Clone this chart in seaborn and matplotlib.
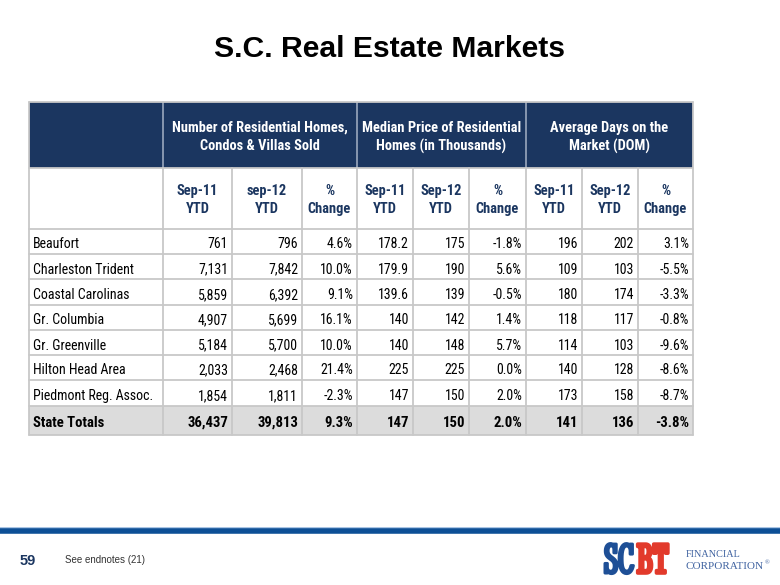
import matplotlib
matplotlib.use("Agg")
import matplotlib.pyplot as plt
import matplotlib.patheffects as pe
import seaborn as sns
from matplotlib.patches import Rectangle


# =====================================================
# DATA
# =====================================================

regions = [
    "Beaufort", "Charleston Trident", "Coastal Carolinas", "Gr. Columbia",
    "Gr. Greenville", "Hilton Head Area", "Piedmont Reg. Assoc.", "State Totals",
]

homes_sep11 = [761, 7131, 5859, 4907, 5184, 2033, 1854, 36437]
homes_sep12 = [796, 7842, 6392, 5699, 5700, 2468, 1811, 39813]
homes_chg = [4.6, 10.0, 9.1, 16.1, 10.0, 21.4, -2.3, 9.3]

price_sep11 = [178.2, 179.9, 139.6, 140, 140, 225, 147, 147]
price_sep12 = [175, 190, 139, 142, 148, 225, 150, 150]
price_chg = [-1.8, 5.6, -0.5, 1.4, 5.7, 0.0, 2.0, 2.0]

dom_sep11 = [196, 109, 180, 118, 114, 140, 173, 141]
dom_sep12 = [202, 103, 174, 117, 103, 128, 158, 136]
dom_chg = [3.1, -5.5, -3.3, -0.8, -9.6, -8.6, -8.7, -3.8]

group_labels = [
    ("Number of Residential Homes,", "Condos & Villas Sold"),
    ("Median Price of Residential", "Homes (in Thousands)"),
    ("Average Days on the", "Market (DOM)"),
]
sub_labels = [
    ("Sep-11", "YTD"), ("sep-12", "YTD"), ("%", "Change"),
    ("Sep-11", "YTD"), ("Sep-12", "YTD"), ("%", "Change"),
    ("Sep-11", "YTD"), ("Sep-12", "YTD"), ("%", "Change"),
]


# =====================================================
# FORMAT
# =====================================================

def fmt_count(v):
    return f"{v:,}"


def fmt_num(v):
    return f"{v:g}"


def fmt_pct(v):
    return f"{v:.1f}%"


columns = [
    (homes_sep11, fmt_count), (homes_sep12, fmt_count), (homes_chg, fmt_pct),
    (price_sep11, fmt_num), (price_sep12, fmt_num), (price_chg, fmt_pct),
    (dom_sep11, fmt_num), (dom_sep12, fmt_num), (dom_chg, fmt_pct),
]


# =====================================================
# FIGURE
# =====================================================

sns.set_theme(style="white")
plt.rcParams["font.family"] = ["Liberation Sans", "DejaVu Sans"]

NAVY = "#1b3660"
GRID = "#c8c8c8"
NARROW = ["Roboto Condensed", "Liberation Sans"]
LOGO = ["Stint Ultra Condensed", "Liberation Serif"]

fig = plt.figure(figsize=(7.8, 5.85), dpi=100)
ax = fig.add_axes([0, 0, 1, 1])
ax.set_xlim(0, 780)
ax.set_ylim(585, 0)
ax.axis("off")

col_edges = [29, 163, 232, 302, 357, 413, 469, 526, 582, 638, 693]
row_edges = [229, 254, 279, 305, 330, 355, 380, 406, 435]
head_top, head_mid = 102, 168

# title
ax.text(390, 49, "S.C. Real Estate Markets", ha="center", va="center",
        fontsize=21.7, fontweight="bold", color="black")

# group header band
ax.add_patch(Rectangle((col_edges[0], head_top), col_edges[-1] - col_edges[0],
                       head_mid - head_top, facecolor=NAVY, edgecolor="none"))
group_bounds = [(1, 4), (4, 7), (7, 10)]
for (a, b), (l1, l2) in zip(group_bounds, group_labels):
    xc = (col_edges[a] + col_edges[b]) / 2
    for yb, line in [(132, l1), (150.5, l2)]:
        ax.text(xc, yb, line, ha="center", va="baseline", color="white",
                fontsize=10.4, fontweight="bold", family=NARROW)
for x in [col_edges[1], col_edges[4], col_edges[7]]:
    ax.plot([x, x], [head_top, head_mid], color="#9aa8bd", lw=1.2)

# sub header
for i, (l1, l2) in enumerate(sub_labels):
    xc = (col_edges[i + 1] + col_edges[i + 2]) / 2
    for yb, line in [(195, l1), (213, l2)]:
        ax.text(xc, yb, line, ha="center", va="baseline", color=NAVY,
                fontsize=10.4, fontweight="bold", family=NARROW)

# totals row background
ax.add_patch(Rectangle((col_edges[0], row_edges[-2]), col_edges[-1] - col_edges[0],
                       row_edges[-1] - row_edges[-2], facecolor="#dcdcdc",
                       edgecolor="none"))

# body text
n_rows = len(regions)
for r in range(n_rows):
    total = r == n_rows - 1
    y = (row_edges[r] + row_edges[r + 1]) / 2 + (6.2 if total else 7)
    weight = "bold" if total else "normal"
    size = 10.6 if total else 10
    ax.text(col_edges[0] + 4, y, regions[r], ha="left", va="baseline",
            fontsize=size, fontweight=weight, color="black", family=NARROW)
    for c, (vals, f) in enumerate(columns):
        ax.text(col_edges[c + 2] - 4, y, f(vals[r]), ha="right", va="baseline",
                fontsize=size, fontweight=weight, color="black", family=NARROW)

# grid lines
for y in [head_mid] + row_edges:
    ax.plot([col_edges[0], col_edges[-1]], [y, y], color=GRID, lw=1.3)
for i, x in enumerate(col_edges):
    y0 = head_top if i in (0, len(col_edges) - 1) else head_mid
    ax.plot([x, x], [y0, row_edges[-1]], color=GRID, lw=1.3)
ax.plot([col_edges[0], col_edges[-1]], [head_top, head_top], color=GRID, lw=1.3)

# footer rule
ax.plot([0, 780], [527.5, 527.5], color="#9bbbe0", lw=1.2)
ax.plot([0, 780], [531, 531], color="#0d4f96", lw=4)

ax.text(20, 561, "59", ha="left", va="center", fontsize=10.5,
        fontweight="bold", color="#1b3660")
ax.text(65, 560, "See endnotes (21)", ha="left", va="center", fontsize=7,
        color="#333333")

# logo
ax.text(604, 573, "SC", ha="left", va="baseline", fontsize=31,
        color="#1e4f96", family=LOGO,
        path_effects=[pe.withStroke(linewidth=2.2, foreground="#1e4f96")])
ax.text(637, 573, "BT", ha="left", va="baseline", fontsize=31,
        color="#e23a2b", family=LOGO,
        path_effects=[pe.withStroke(linewidth=2.6, foreground="#e23a2b")])
ax.text(686, 557, "FINANCIAL", ha="left", va="baseline", fontsize=7.3,
        color="#3f62a0", family="Liberation Serif")
ax.text(686, 569, "CORPORATION", ha="left", va="baseline", fontsize=8,
        color="#3f62a0", family="Liberation Serif")
ax.text(765, 564, "®", ha="left", va="baseline", fontsize=4.5,
        color="#3f62a0", family="Liberation Serif")

plt.savefig("out.png", dpi=100)
plt.close()
